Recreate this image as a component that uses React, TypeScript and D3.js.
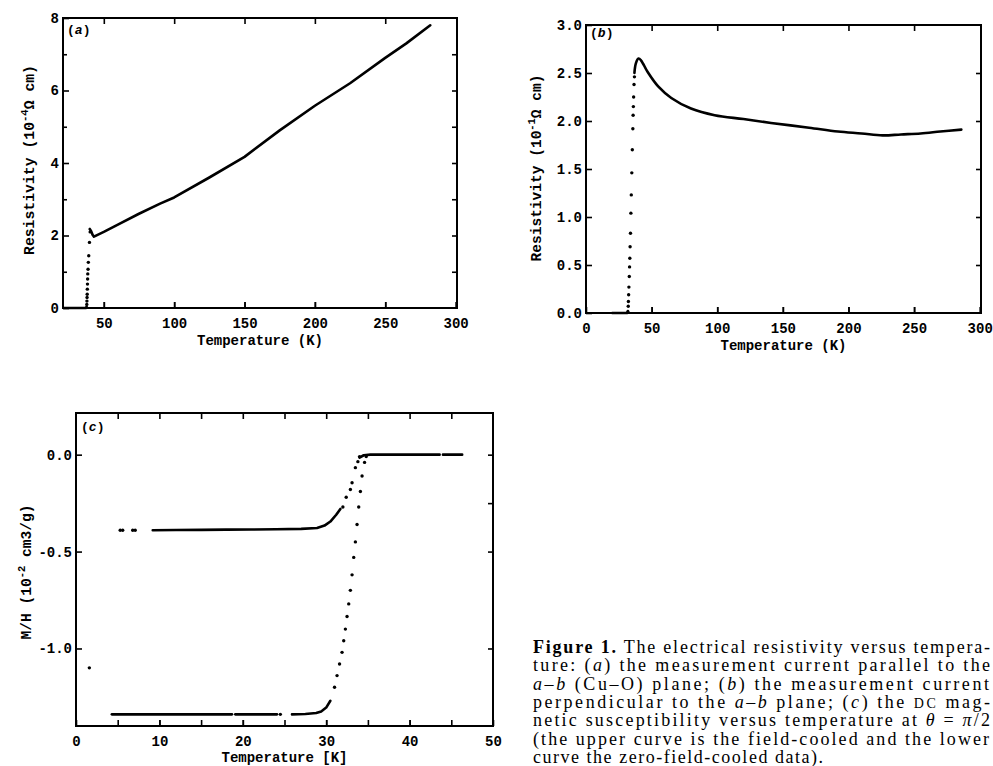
import React, { useEffect, useRef } from 'react';
import * as d3 from 'd3';

// ---------- panel (a): resistivity, current parallel to a-b ----------
const aTickX = [50, 100, 150, 200, 250, 300];
const aTickY = [0, 2, 4, 6, 8];
const aMinorY = [1, 3, 5, 7];
const aBaseT = [21.5, 37.2, 37.8];
const aBaseR = [0, 0, 0.04];
const aDotT = [37.9, 38.0, 38.1, 38.2, 38.3, 38.4, 38.5, 38.6, 38.8, 39.0, 39.3, 39.8, 40.3];
const aDotR = [0.1, 0.19, 0.29, 0.38, 0.52, 0.66, 0.8, 0.94, 1.07, 1.26, 1.44, 1.81, 2.1];
const aLineT = [40, 41, 42, 43, 50, 60, 75, 90, 100, 125, 150, 175, 200, 225, 250, 265, 282];
const aLineR = [2.18, 2.12, 2.02, 1.97, 2.1, 2.3, 2.6, 2.88, 3.05, 3.6, 4.17, 4.9, 5.58, 6.2, 6.9, 7.3, 7.8];

// ---------- panel (b): resistivity, current perpendicular ----------
const bTickX = [0, 50, 100, 150, 200, 250, 300];
const bTickY = [0, 0.5, 1.0, 1.5, 2.0, 2.5, 3.0];
const bBaseT = [20, 31.5, 31.9];
const bBaseR = [0, 0, 0.02];
const bDotT = [32.0, 32.2, 32.3, 32.5, 32.7, 33.0, 33.2, 33.4, 33.6, 33.9, 34.2, 34.5, 34.9, 35.3, 35.7, 35.9, 36.1, 36.3, 36.6, 36.9];
const bDotR = [0.01, 0.07, 0.12, 0.19, 0.27, 0.38, 0.48, 0.57, 0.69, 0.83, 1.04, 1.23, 1.46, 1.7, 1.92, 2.06, 2.15, 2.25, 2.38, 2.46];
const bLineT = [36.9, 38, 40, 42, 47, 55, 65, 80, 98, 120, 141, 170, 192, 210, 226, 240, 255, 270, 286];
const bLineR = [2.5, 2.6, 2.65, 2.63, 2.51, 2.36, 2.24, 2.13, 2.06, 2.02, 1.98, 1.93, 1.89, 1.87, 1.85, 1.86, 1.87, 1.89, 1.91];

// ---------- panel (c): M/H, field-cooled and zero-field-cooled ----------
const cTickX = [0, 10, 20, 30, 40, 50];
const cMinorX = [5, 10, 15, 20, 25, 30, 35, 40, 45];
const cTickY = [0, -0.5, -1.0];
const cRightY = [0, -0.25, -0.5, -1.0];
// field-cooled (upper curve)
const fcDotT = [5.3, 5.6, 6.8, 7.1, 32.0, 32.4, 32.9, 33.1, 33.5, 33.8, 34.0];
const fcDotM = [-0.39, -0.39, -0.39, -0.39, -0.27, -0.22, -0.18, -0.145, -0.067, -0.036, -0.01];
const fcLineT = [9.2, 12, 15, 18, 21, 24, 27, 28.9, 29.8, 30.5, 31.2, 31.7];
const fcLineM = [-0.39, -0.389, -0.388, -0.387, -0.386, -0.385, -0.383, -0.378, -0.366, -0.345, -0.31, -0.28];
const fcTopT = [34.0, 34.5, 35.3, 38, 41, 43.6];
const fcTopM = [-0.015, -0.003, 0, 0, 0, 0];
const fcTailT = [44, 46.3];
const fcTailM = [0, 0];
// zero-field-cooled (lower curve)
const zfcSegT = [[4.3, 18.7], [19.1, 24.1], [25.9, 27.5, 28.8, 29.4, 30.0, 30.5]];
const zfcSegM = [[-1.34, -1.34], [-1.34, -1.34], [-1.34, -1.338, -1.333, -1.325, -1.305, -1.27]];
const zfcDotT = [24.5, 31.0, 31.3, 31.6, 31.9, 32.1, 32.3, 32.5, 32.7, 32.9, 33.1, 33.3, 33.5, 33.7, 33.9, 34.1, 34.3, 34.6, 34.8];
const zfcDotM = [-1.34, -1.2, -1.14, -1.08, -1.02, -0.96, -0.9, -0.835, -0.77, -0.7, -0.62, -0.53, -0.45, -0.36, -0.27, -0.19, -0.11, -0.04, -0.01];
const strayT = [1.6];
const strayM = [-1.1];

const monoFont = "'Liberation Mono', 'DejaVu Sans Mono', monospace";
const serifFont = "'Liberation Serif', 'DejaVu Serif', serif";

const zip = (xs: number[], ys: number[]) => xs.map((v, i) => [v, ys[i]] as [number, number]);

const captionLines: [string, string][][] = [
  [['Figure 1.', 'b'], [' The electrical resistivity versus tempera-', '']],
  [['ture: (', ''], ['a', 'i'], [') the measurement current parallel to the', '']],
  [['a–b', 'i'], [' (Cu–O) plane; (', ''], ['b', 'i'], [') the measurement current', '']],
  [['perpendicular to the ', ''], ['a–b', 'i'], [' plane; (', ''], ['c', 'i'], [') the ', ''], ['DC', 'sc'], [' mag-', '']],
  [['netic susceptibility versus temperature at ', ''], ['θ', 'i'], [' = ', ''], ['π', 'i'], ['/2', '']],
  [['(the upper curve is the field-cooled and the lower', '']],
  [['curve the zero-field-cooled data).', '']],
];
const captionEnds = [990, 990, 989, 990, 990, 989, 823];

function drawPanel(svg: any, p: any) {
  const x = d3.scaleLinear().domain(p.xDomain).range([p.left, p.right]);
  const y = d3.scaleLinear().domain(p.yDomain).range([p.bottom, p.top]);
  const g = svg.append('g');

  const styleAxis = (ax: any) => {
    ax.select('.domain').remove();
    ax.selectAll('line').attr('stroke', '#000').attr('stroke-width', 1.6);
    ax.selectAll('text')
      .attr('font-family', monoFont)
      .attr('font-size', 14)
      .attr('font-weight', 'bold')
      .attr('fill', '#000');
  };

  const bottom = g.append('g').attr('transform', `translate(0,${p.bottom})`)
    .call(d3.axisBottom(x).tickValues(p.xLabels).tickSize(-6).tickPadding(10).tickFormat(p.xFormat));
  styleAxis(bottom);
  const bottomTicks = g.append('g').attr('transform', `translate(0,${p.bottom})`)
    .call(d3.axisBottom(x).tickValues(p.xTicks).tickSize(-6).tickFormat(() => ''));
  styleAxis(bottomTicks);
  const top = g.append('g').attr('transform', `translate(0,${p.top})`)
    .call(d3.axisTop(x).tickValues(p.xTicks).tickSize(-6).tickFormat(() => ''));
  styleAxis(top);
  const left = g.append('g').attr('transform', `translate(${p.left},0)`)
    .call(d3.axisLeft(y).tickValues(p.yLabels).tickSize(-6).tickPadding(4).tickFormat(p.yFormat));
  styleAxis(left);
  if (p.yMinor) {
    const leftMinor = g.append('g').attr('transform', `translate(${p.left},0)`)
      .call(d3.axisLeft(y).tickValues(p.yMinor).tickSize(-4).tickFormat(() => ''));
    styleAxis(leftMinor);
  }
  const right = g.append('g').attr('transform', `translate(${p.right},0)`)
    .call(d3.axisRight(y).tickValues(p.yRight).tickSize(-5).tickFormat(() => ''));
  styleAxis(right);

  g.append('rect')
    .attr('x', p.left).attr('y', p.top)
    .attr('width', p.right - p.left).attr('height', p.bottom - p.top)
    .attr('fill', 'none').attr('stroke', '#000').attr('stroke-width', 2);

  const line = d3.line<[number, number]>().x(d => x(d[0])).y(d => y(d[1]));
  const smooth = d3.line<[number, number]>().x(d => x(d[0])).y(d => y(d[1])).curve(d3.curveCatmullRom);
  p.lines.forEach((pts: [number, number][]) => {
    g.append('path').attr('d', line(pts)).attr('fill', 'none')
      .attr('stroke', '#000').attr('stroke-width', 2.6).attr('stroke-linejoin', 'round').attr('stroke-linecap', 'round');
  });
  (p.smoothLines || []).forEach((pts: [number, number][]) => {
    g.append('path').attr('d', smooth(pts)).attr('fill', 'none')
      .attr('stroke', '#000').attr('stroke-width', 2.6).attr('stroke-linejoin', 'round').attr('stroke-linecap', 'round');
  });
  g.selectAll('circle.pt').data(p.dots).join('circle')
    .attr('cx', (d: any) => x(d[0])).attr('cy', (d: any) => y(d[1]))
    .attr('r', 1.7).attr('fill', '#000');

  // panel tag
  const tag = g.append('text').attr('x', p.tag[0]).attr('y', p.tag[1])
    .attr('font-family', monoFont).attr('font-size', 13).attr('font-weight', 'bold');
  tag.append('tspan').text('(');
  tag.append('tspan').attr('font-style', 'italic').text(p.tagLetter);
  tag.append('tspan').text(')');

  // x label
  g.append('text').attr('x', (p.left + p.right) / 2).attr('y', p.xTitleY)
    .attr('text-anchor', 'middle').attr('font-family', monoFont).attr('font-size', 14)
    .attr('font-weight', 'bold').text(p.xTitle);

  // y label
  const yl = g.append('text')
    .attr('transform', `translate(${p.yTitle[0]},${p.yTitle[1]}) rotate(-90)`)
    .attr('text-anchor', 'middle').attr('font-family', monoFont).attr('font-size', 14)
    .attr('font-weight', 'bold').attr('textLength', p.yTitleLen).attr('lengthAdjust', 'spacingAndGlyphs');
  yl.append('tspan').text(p.yTitleParts[0]);
  yl.append('tspan').attr('font-size', 10).attr('dy', -6).text(p.yTitleParts[1]);
  yl.append('tspan').attr('dy', 6).text(p.yTitleParts[2]);
}

const App = () => {
  const ref = useRef<SVGSVGElement | null>(null);

  useEffect(() => {
    const svg = d3.select(ref.current);
    svg.selectAll('*').remove();
    svg.append('rect').attr('width', 993).attr('height', 766).attr('fill', '#fff');

    drawPanel(svg, {
      left: 63, right: 457, top: 18, bottom: 308,
      xDomain: [21, 301], yDomain: [0, 8],
      xLabels: aTickX, xTicks: aTickX.slice(0, 5), xFormat: d3.format('d'),
      yLabels: aTickY, yMinor: aMinorY, yRight: [1, 2, 3, 4, 5, 6, 7], yFormat: d3.format('d'),
      lines: [zip(aBaseT, aBaseR), zip(aLineT, aLineR)],
      dots: zip(aDotT, aDotR),
      tag: [67, 34], tagLetter: 'a',
      xTitle: 'Temperature (K)', xTitleY: 345,
      yTitle: [34, 160], yTitleLen: 190, yTitleParts: ['Resistivity (10', '-4', 'Ω cm)'],
    });

    drawPanel(svg, {
      left: 586, right: 981, top: 25, bottom: 313,
      xDomain: [0, 301], yDomain: [0, 3],
      xLabels: bTickX, xTicks: bTickX.slice(1, 6), xFormat: d3.format('d'),
      yLabels: bTickY, yRight: bTickY.slice(1, 6), yFormat: (d: number) => d.toFixed(1),
      lines: [zip(bBaseT, bBaseR)],
      smoothLines: [zip(bLineT, bLineR)],
      dots: zip(bDotT, bDotR),
      tag: [590, 37], tagLetter: 'b',
      xTitle: 'Temperature (K)', xTitleY: 350,
      yTitle: [541, 168], yTitleLen: 187, yTitleParts: ['Resistivity (10', '-1', 'Ω cm)'],
    });

    drawPanel(svg, {
      left: 76, right: 493, top: 413, bottom: 726,
      xDomain: [0, 50], yDomain: [-1.4, 0.215],
      xLabels: cTickX, xTicks: cMinorX, xFormat: d3.format('d'),
      yLabels: cTickY, yRight: cRightY, yFormat: (d: number) => d.toFixed(1),
      lines: [
        zip(fcLineT, fcLineM), zip(fcTopT, fcTopM), zip(fcTailT, fcTailM),
        ...zfcSegT.map((t, i) => zip(t, zfcSegM[i])),
      ],
      dots: [...zip(fcDotT, fcDotM), ...zip(zfcDotT, zfcDotM), ...zip(strayT, strayM)],
      tag: [81, 431], tagLetter: 'c',
      xTitle: 'Temperature [K]', xTitleY: 762,
      yTitle: [31, 572], yTitleLen: 135, yTitleParts: ['M/H (10', '-2', ' cm3/g)'],
    });

    // caption
    const cap = svg.append('g');
    captionLines.forEach((segs, i) => {
      const t = cap.append('text')
        .attr('x', 533).attr('y', 653 + i * 18.3)
        .attr('font-family', serifFont).attr('font-size', 18).attr('fill', '#000')
        .attr('textLength', captionEnds[i] - 533).attr('lengthAdjust', 'spacing');
      segs.forEach(([s, st]) => {
        const ts = t.append('tspan').text(s);
        if (st === 'b') ts.attr('font-weight', 'bold');
        if (st === 'i') ts.attr('font-style', 'italic');
        if (st === 'sc') ts.attr('font-size', 14);
      });
    });
  }, []);

  return (
    <svg ref={ref} width={993} height={766}
      style={{ position: 'absolute', left: 0, top: 0, display: 'block' }} />
  );
};

export default App;
